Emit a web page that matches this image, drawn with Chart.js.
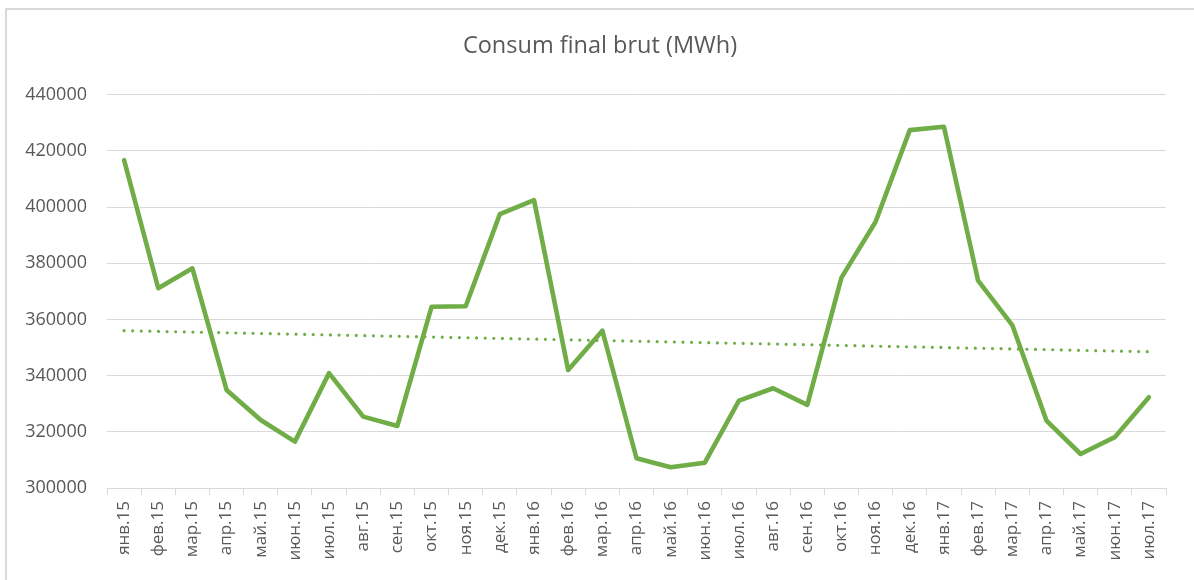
<!DOCTYPE html>
<html>
<head>
<meta charset="utf-8">
<script src="https://cdn.jsdelivr.net/npm/chart.js@4"></script>
<style>
  html, body { margin: 0; padding: 0; background: #fff; }
  #wrap { position: relative; width: 1194px; height: 580px; overflow: hidden; }
  #frame { position: absolute; left: 5px; top: 8px; width: 1300px; height: 700px;
           border-left: 2px solid #d9d9d9; border-top: 2px solid #d9d9d9; }
  #consumChart { position: absolute; left: 0; top: 0; }
</style>
</head>
<body>
<div id="wrap">
  <div id="frame"></div>
  <canvas id="consumChart" width="1194" height="580"></canvas>
</div>
<script>
// Consum final brut chart
const months = [
  'янв.15', 'фев.15', 'мар.15', 'апр.15', 'май.15', 'июн.15', 'июл.15', 'авг.15',
  'сен.15', 'окт.15', 'ноя.15', 'дек.15', 'янв.16', 'фев.16', 'мар.16', 'апр.16',
  'май.16', 'июн.16', 'июл.16', 'авг.16', 'сен.16', 'окт.16', 'ноя.16', 'дек.16',
  'янв.17', 'фев.17', 'мар.17', 'апр.17', 'май.17', 'июн.17', 'июл.17'
];
const consum = [
  416700, 371100, 378200, 334900, 324200, 316500, 340900, 325400,
  322100, 364500, 364700, 397500, 402500, 342000, 356000, 310600,
  307400, 309000, 331100, 335500, 329600, 374900, 394800, 427400,
  428600, 373800, 358000, 324000, 312100, 318100, 332300
];
// trendline: first and last point only
const trendStart = 356000;
const trendEnd = 348500;
const yTicks = [300000, 320000, 340000, 360000, 380000, 400000, 420000, 440000];

const trend = months.map((m, i) => i === 0 ? trendStart : (i === months.length - 1 ? trendEnd : null));

const textColor = '#595959';
const gridColor = '#d9d9d9';
const fontFamily = '"Open Sans", Calibri, sans-serif';

new Chart(document.getElementById('consumChart').getContext('2d'), {
  type: 'line',
  data: {
    labels: months,
    datasets: [
      {
        label: 'Consum final brut',
        data: consum,
        borderColor: '#70AD47',
        borderWidth: 4.6,
        borderJoinStyle: 'round',
        borderCapStyle: 'round',
        pointRadius: 0,
        tension: 0,
        fill: false
      },
      {
        label: 'Trend',
        data: trend,
        spanGaps: true,
        borderColor: '#70AD47',
        borderWidth: 3.2,
        borderDash: [0, 8.6],
        borderCapStyle: 'round',
        pointRadius: 0,
        fill: false
      }
    ]
  },
  options: {
    responsive: false,
    animation: false,
    layout: { padding: { left: 6, right: 0, top: 0, bottom: 0 } },
    plugins: {
      legend: { display: false },
      tooltip: { enabled: false },
      title: {
        display: true,
        text: 'Consum final brut (MWh)',
        color: textColor,
        font: { family: fontFamily, size: 23.5, weight: 'normal', lineHeight: 1.2 },
        padding: { top: 32, bottom: 34.5 }
      }
    },
    scales: {
      x: {
        offset: true,
        grid: {
          offset: true,
          drawOnChartArea: false,
          drawTicks: true,
          tickLength: 7,
          color: gridColor
        },
        border: { display: true, color: gridColor, width: 1 },
        ticks: {
          color: textColor,
          font: { family: fontFamily, size: 17 },
          minRotation: 90,
          maxRotation: 90,
          autoSkip: false,
          padding: 6
        },
        afterFit: (scale) => { scale.height = 92; }
      },
      y: {
        min: yTicks[0],
        max: yTicks[yTicks.length - 1],
        afterBuildTicks: (scale) => { scale.ticks = yTicks.map(v => ({ value: v })); },
        grid: { color: gridColor, lineWidth: 1, drawTicks: false },
        border: { display: false },
        ticks: {
          color: textColor,
          font: { family: fontFamily, size: 18 },
          padding: 20,
          callback: (v) => String(v)
        },
        afterFit: (scale) => { scale.width = 101; }
      },
      y2: {
        position: 'right',
        display: true,
        grid: { display: false, drawTicks: false },
        border: { display: false },
        ticks: { display: false },
        afterFit: (scale) => { scale.width = 28; }
      }
    }
  }
});
</script>
</body>
</html>
